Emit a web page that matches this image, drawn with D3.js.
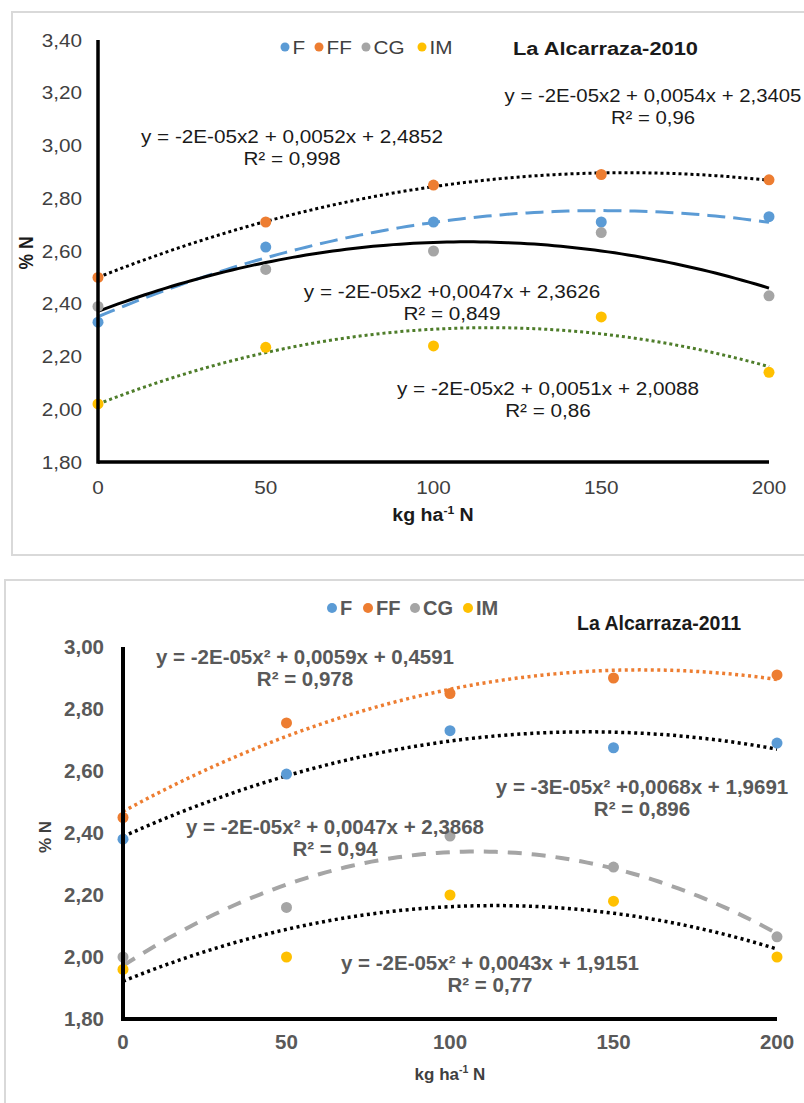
<!DOCTYPE html>
<html><head><meta charset="utf-8">
<script src="https://cdn.jsdelivr.net/npm/d3@7"></script>
<style>body{margin:0;background:#fff}svg{display:block}</style>
</head><body>
<svg id="c" width="804" height="1103"></svg>
<script>
// ---------- DATA ----------
const xLevels = [0, 50, 100, 150, 200];
const seriesNames = ["F", "FF", "CG", "IM"];
const seriesColors = ["#5B9BD5", "#ED7D31", "#A5A5A5", "#FFC000"];

const n2010_F  = [2.33, 2.615, 2.71, 2.71, 2.73];
const n2010_FF = [2.50, 2.71, 2.85, 2.89, 2.87];
const n2010_CG = [2.39, 2.53, 2.60, 2.67, 2.43];
const n2010_IM = [2.02, 2.235, 2.24, 2.35, 2.14];

const n2011_F  = [2.38, 2.59, 2.73, 2.675, 2.69];
const n2011_FF = [2.45, 2.755, 2.85, 2.90, 2.91];
const n2011_CG = [2.00, 2.16, 2.39, 2.29, 2.065];
const n2011_IM = [1.96, 2.00, 2.20, 2.18, 2.00];

const yTicks2010 = [1.8, 2.0, 2.2, 2.4, 2.6, 2.8, 3.0, 3.2, 3.4];
const yTicks2011 = [1.8, 2.0, 2.2, 2.4, 2.6, 2.8, 3.0];
const xTicks = [0, 50, 100, 150, 200];

const title2010 = "La Alcarraza-2010";
const title2011 = "La Alcarraza-2011";
const eq2010 = ["y = -2E-05x2 + 0,0054x + 2,3405", "y = -2E-05x2 + 0,0052x + 2,4852",
                "y = -2E-05x2 +0,0047x + 2,3626", "y = -2E-05x2 + 0,0051x + 2,0088"];
const r2_2010 = ["R² = 0,96", "R² = 0,998", "R² = 0,849", "R² = 0,86"];
const eq2011 = ["y = -2E-05x² + 0,0059x + 0,4591", "y = -3E-05x² +0,0068x + 1,9691",
                "y = -2E-05x² + 0,0047x + 2,3868", "y = -2E-05x² + 0,0043x + 1,9151"];
const r2_2011 = ["R² = 0,978", "R² = 0,896", "R² = 0,94", "R² = 0,77"];

// ---------- HELPERS ----------
const svg = d3.select("#c");
const fmt = d3.formatLocale({decimal: ",", thousands: ".", grouping: [3], currency: ["", ""]}).format(".2f");
const FONT = "'Liberation Sans', Arial, Helvetica, sans-serif";

function label(g, x, y, s, o) {
  const t = g.append("text")
    .attr("transform", `translate(${x},${y}) scale(${o.sx || 1},1)` + (o.rot ? ` rotate(${o.rot})` : ""))
    .attr("text-anchor", o.anchor || "middle")
    .style("font-family", FONT)
    .style("font-size", o.size + "px")
    .style("font-weight", o.bold ? "bold" : "normal")
    .attr("fill", o.color || "#404040")
    .text(s);
  return t;
}

function quadFit(xs, ys) {
  // least squares y = a + b x + c x^2 (same as the spreadsheet trendline)
  let S = [0, 0, 0, 0, 0], T = [0, 0, 0];
  xs.forEach((x, i) => {
    for (let k = 0; k < 5; k++) S[k] += Math.pow(x, k);
    for (let k = 0; k < 3; k++) T[k] += ys[i] * Math.pow(x, k);
  });
  const M = [[S[0], S[1], S[2]], [S[1], S[2], S[3]], [S[2], S[3], S[4]]];
  const det = m => m[0][0]*(m[1][1]*m[2][2]-m[1][2]*m[2][1]) - m[0][1]*(m[1][0]*m[2][2]-m[1][2]*m[2][0]) + m[0][2]*(m[1][0]*m[2][1]-m[1][1]*m[2][0]);
  const D = det(M);
  const sol = [0, 1, 2].map(j => det(M.map((row, r) => row.map((v, c) => c === j ? T[r] : v))) / D);
  return x => sol[0] + sol[1] * x + sol[2] * x * x;
}

function drawChart(cfg) {
  const g = svg.append("g");
  g.append("rect").attr("x", cfg.frame[0]).attr("y", cfg.frame[1]).attr("width", cfg.frame[2]).attr("height", cfg.frame[3])
    .attr("fill", "none").attr("stroke", "#d9d9d9").attr("stroke-width", 2);

  const x = d3.scaleLinear().domain([0, 200]).range([cfg.x0, cfg.x1]);
  const y = d3.scaleLinear().domain(cfg.yDomain).range([cfg.yBottom, cfg.yTop]);

  const ya = g.append("g").attr("transform", `translate(${cfg.x0 - cfg.yLabOff},0)`)
    .call(d3.axisLeft(y).tickValues(cfg.yTicks).tickFormat(fmt).tickSize(0).tickPadding(0));
  ya.select(".domain").remove();
  ya.selectAll("text").remove();
  cfg.yTicks.forEach(v => label(g, cfg.x0 - cfg.yLabOff, y(v) + cfg.tick.size * 0.36, fmt(v), Object.assign({anchor: "end"}, cfg.tick)));

  const xa = g.append("g").attr("transform", `translate(0,${cfg.yBottom})`)
    .call(d3.axisBottom(x).tickValues(xTicks).tickSize(0));
  xa.select(".domain").remove();
  xa.selectAll("text").remove();
  xTicks.forEach(v => label(g, x(v), cfg.xLabY, String(v), cfg.tick));

  const line = d3.line().x(d => x(d[0])).y(d => y(d[1]));
  cfg.series.forEach((s, i) => {
    const f = quadFit(xLevels, s);
    const pts = d3.range(0, 200.01, 2).map(v => [v, f(v)]);
    const st = cfg.trend[i];
    g.append("path").attr("d", line(pts)).attr("fill", "none")
      .attr("stroke", st.color).attr("stroke-width", st.w)
      .attr("stroke-dasharray", st.dash || null).attr("stroke-linecap", "butt");
  });

  cfg.series.forEach((s, i) => {
    g.selectAll(null).data(s).enter().append("circle")
      .attr("cx", (d, j) => x(xLevels[j])).attr("cy", d => y(d))
      .attr("r", cfg.r).attr("fill", seriesColors[i]);
  });

  g.append("line").attr("x1", cfg.x0).attr("x2", cfg.x0).attr("y1", cfg.yTop).attr("y2", cfg.yBottom + cfg.axisW / 2)
    .attr("stroke", "#000").attr("stroke-width", cfg.axisW);
  g.append("line").attr("x1", cfg.x0).attr("x2", cfg.x1).attr("y1", cfg.yBottom).attr("y2", cfg.yBottom)
    .attr("stroke", "#000").attr("stroke-width", cfg.axisW);

  cfg.legend.forEach((lx, i) => {
    g.append("circle").attr("cx", lx).attr("cy", cfg.legendY).attr("r", cfg.legendR).attr("fill", seriesColors[i]);
    label(g, lx + cfg.legendR + 3, cfg.legendY + cfg.leg.size * 0.36, seriesNames[i], Object.assign({anchor: "start"}, cfg.leg));
  });

  label(g, cfg.titlePos[0], cfg.titlePos[1], cfg.title, Object.assign({anchor: "start"}, cfg.titleStyle));

  cfg.eqPos.forEach((p, i) => {
    const st = Object.assign({}, cfg.eqStyle, p[2] || {});
    label(g, p[0], p[1], cfg.eq[i], st);
    label(g, p[0], p[1] + cfg.eqGap, cfg.r2[i], st);
  });

  label(g, cfg.yTitlePos[0], cfg.yTitlePos[1], "% N", Object.assign({rot: -90}, cfg.axTitle));
  const xt = g.append("text")
    .attr("transform", `translate(${cfg.xTitlePos[0]},${cfg.xTitlePos[1]}) scale(${cfg.axTitle.sx || 1},1)`)
    .attr("text-anchor", "middle").style("font-family", FONT).style("font-size", cfg.axTitle.size + "px")
    .style("font-weight", "bold").attr("fill", cfg.axTitle.color);
  xt.append("tspan").text("kg ha");
  xt.append("tspan").attr("dy", -cfg.axTitle.size * 0.4).style("font-size", (cfg.axTitle.size * 0.62) + "px").text("-1");
  xt.append("tspan").attr("dy", cfg.axTitle.size * 0.4).text(" N");
}

drawChart({
  frame: [12, 12, 820, 543],
  x0: 98, x1: 769, yTop: 40, yBottom: 462, yDomain: [1.8, 3.4], yTicks: yTicks2010,
  yLabOff: 16, xLabY: 494, axisW: 3.5, r: 5.5,
  tick: {size: 18.5, sx: 1.12, color: "#404040"},
  series: [n2010_F, n2010_FF, n2010_CG, n2010_IM],
  trend: [
    {color: "#5B9BD5", w: 3, dash: "18,8"},
    {color: "#000", w: 3, dash: "3,3"},
    {color: "#000", w: 3},
    {color: "#4E7D2A", w: 3, dash: "3,3"}
  ],
  legend: [285, 319, 366, 422], legendY: 47, legendR: 4.5,
  leg: {size: 18.5, sx: 1.12, color: "#404040"},
  title: title2010, titlePos: [513, 55], titleStyle: {size: 19, sx: 1.15, bold: true, color: "#1a1a1a"},
  eq: eq2010, r2: r2_2010, eqGap: 22,
  eqPos: [[653, 102, {sx: 1.1}], [292, 143], [452, 298], [548, 395]],
  eqStyle: {size: 18.5, sx: 1.12, color: "#1a1a1a"},
  yTitlePos: [33, 253], xTitlePos: [433, 521],
  axTitle: {size: 17.5, sx: 1.12, bold: true, color: "#1a1a1a"}
});

drawChart({
  frame: [5, 580, 830, 560],
  x0: 123, x1: 777, yTop: 647, yBottom: 1019, yDomain: [1.8, 3.0], yTicks: yTicks2011,
  yLabOff: 19, xLabY: 1049, axisW: 4, r: 5.5,
  tick: {size: 20.5, bold: true, color: "#595959"},
  series: [n2011_F, n2011_FF, n2011_CG, n2011_IM],
  trend: [
    {color: "#000", w: 3.5, dash: "3,3.5"},
    {color: "#ED7D31", w: 3.5, dash: "3,3.5"},
    {color: "#A5A5A5", w: 4, dash: "14,10"},
    {color: "#000", w: 3.5, dash: "3,3.5"}
  ],
  legend: [332, 368, 415, 468], legendY: 608, legendR: 5,
  leg: {size: 20, bold: true, color: "#595959"},
  title: title2011, titlePos: [577, 630], titleStyle: {size: 19.5, bold: true, color: "#1a1a1a"},
  eq: eq2011, r2: r2_2011, eqGap: 22,
  eqPos: [[305, 664], [642, 794], [335, 834], [490, 970]],
  eqStyle: {size: 20.5, bold: true, color: "#595959"},
  yTitlePos: [51, 837], xTitlePos: [450, 1080],
  axTitle: {size: 17, bold: true, color: "#404040"}
});
</script>
</body></html>
